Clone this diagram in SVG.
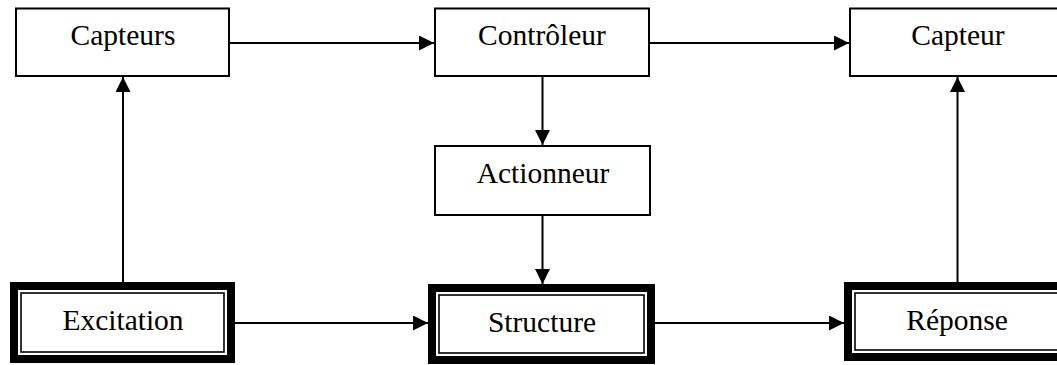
<svg xmlns="http://www.w3.org/2000/svg" width="1057" height="365" viewBox="0 0 1057 365">
<style>
.box{fill:#fff;stroke:#000;stroke-width:2}
.thick{fill:#fff;stroke:#000;stroke-width:8}
.thin{fill:none;stroke:#000;stroke-width:1.6}
.lbl{font-family:"Liberation Serif","Times New Roman",serif;font-size:29.5px;fill:#000;text-anchor:middle}
.conn{stroke:#000;stroke-width:2;fill:none;marker-end:url(#ah)}
</style>
<defs>
<marker id="ah" markerUnits="userSpaceOnUse" markerWidth="15" markerHeight="15" viewBox="0 0 15 15" refX="15" refY="7.5" orient="auto">
<path d="M0,0 L15,7.5 L0,15 Z" fill="#000"/>
</marker>
</defs>
<rect width="1057" height="365" fill="#fff"/>
<g id="connectors">
<line class="conn" x1="229" y1="43" x2="434" y2="43"/>
<line class="conn" x1="649" y1="43" x2="849" y2="43"/>
<line class="conn" x1="542.5" y1="76" x2="542.5" y2="145"/>
<line class="conn" x1="542.5" y1="215" x2="542.5" y2="284"/>
<line class="conn" x1="123" y1="282" x2="123" y2="77"/>
<line class="conn" x1="957.5" y1="282" x2="957.5" y2="77"/>
<line class="conn" x1="235" y1="323" x2="428" y2="323"/>
<line class="conn" x1="655" y1="323" x2="844" y2="323"/>
</g>
<g id="capteurs">
<rect class="box" x="16" y="8.5" width="213" height="67.5"/>
<text class="lbl" x="123" y="45">Capteurs</text>
</g>
<g id="controleur">
<rect class="box" x="435" y="8.5" width="214" height="67.5"/>
<text class="lbl" x="542" y="45">Contrôleur</text>
</g>
<g id="capteur">
<rect class="box" x="850" y="8.5" width="220" height="67.5"/>
<text class="lbl" x="958" y="45">Capteur</text>
</g>
<g id="actionneur">
<rect class="box" x="435" y="146" width="215" height="69"/>
<text class="lbl" x="543" y="183">Actionneur</text>
</g>
<g id="excitation">
<rect class="thick" x="14" y="286" width="217" height="73"/>
<rect class="thin" x="21" y="293" width="203" height="59"/>
<text class="lbl" x="123" y="330">Excitation</text>
</g>
<g id="structure">
<rect class="thick" x="432" y="288" width="219" height="72"/>
<rect class="thin" x="439" y="295" width="205" height="58"/>
<text class="lbl" x="542" y="332">Structure</text>
</g>
<g id="reponse">
<rect class="thick" x="848" y="286" width="220" height="71"/>
<rect class="thin" x="855" y="293" width="206" height="57"/>
<text class="lbl" x="957" y="330">Réponse</text>
</g>
</svg>
